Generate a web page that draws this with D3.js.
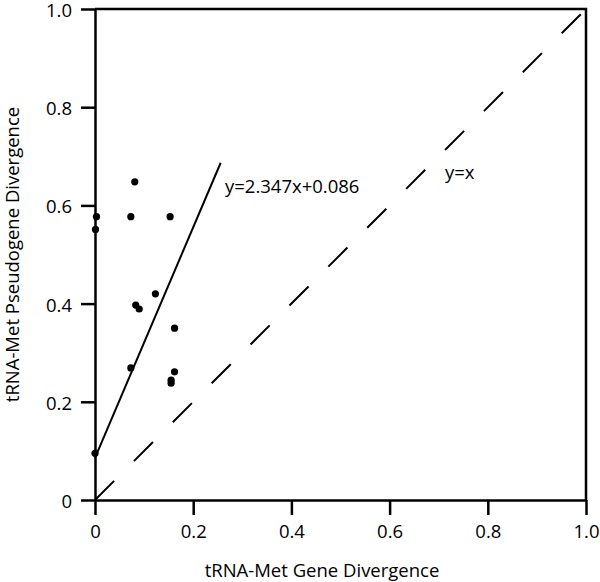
<!DOCTYPE html>
<html>
<head>
<meta charset="utf-8">
<script src="https://cdn.jsdelivr.net/npm/d3@7"></script>
<style>
  body { margin: 0; background: #fff; }
  text { font-family: "Open Sans", "Noto Sans", sans-serif; fill: #000; }
</style>
</head>
<body>
<script>
// gene divergence vs pseudogene divergence
const geneDiv = [0.081, 0.003, 0.001, 0.073, 0.153, 0.123, 0.083, 0.090, 0.162, 0.073, 0.162, 0.155, 0.155, 0.0]
const pseudoDiv = [0.648, 0.577, 0.551, 0.577, 0.577, 0.420, 0.397, 0.389, 0.350, 0.269, 0.261, 0.244, 0.238, 0.095]
const tickValues = [0, 0.2, 0.4, 0.6, 0.8, 1.0]
const fitSlope = 2.347
const fitIntercept = 0.086
const fitRange = [0, 0.256]

const width = 600
const height = 582
const plotLeft = 95, plotRight = 586, plotTop = 9, plotBottom = 500
const fontSize = "18.5px"

const svg = d3.select("body").append("svg")
  .attr("width", width).attr("height", height)

const x = d3.scaleLinear().domain([0, 1]).range([plotLeft, plotRight])
const y = d3.scaleLinear().domain([0, 1]).range([plotBottom, plotTop])

const fmt = d => d === 0 ? "0" : d3.format(".1f")(d)

//axes
const xAxis = svg.append("g")
  .attr("transform", `translate(0,${plotBottom})`)
  .call(d3.axisBottom(x).tickValues(tickValues).tickFormat(fmt).tickSize(15).tickSizeOuter(0).tickPadding(10))
const yAxis = svg.append("g")
  .attr("transform", `translate(${plotLeft},0)`)
  .call(d3.axisLeft(y).tickValues(tickValues).tickFormat(fmt).tickSize(14).tickSizeOuter(0).tickPadding(9))

;[xAxis, yAxis].forEach(g => {
  g.select(".domain").attr("stroke", "#000").attr("stroke-width", 2.5)
  g.selectAll(".tick line").attr("stroke", "#000").attr("stroke-width", 2.5)
  g.selectAll(".tick text").style("font-size", fontSize).attr("fill", "#000")
})
yAxis.selectAll(".tick text").attr("dy", "0.4em")

//top and right frame
svg.append("path")
  .attr("d", d3.line()([[x(0), y(1)], [x(1), y(1)], [x(1), y(0)]]))
  .attr("fill", "none").attr("stroke", "#000").attr("stroke-width", 2.5)

//y = x reference line
svg.append("line")
  .attr("x1", x(0)).attr("y1", y(0))
  .attr("x2", x(1)).attr("y2", y(1))
  .attr("stroke", "#000").attr("stroke-width", 2)
  .attr("stroke-dasharray", "27,28")

//regression line
svg.append("line")
  .attr("x1", x(fitRange[0])).attr("y1", y(fitSlope * fitRange[0] + fitIntercept))
  .attr("x2", x(fitRange[1])).attr("y2", y(fitSlope * fitRange[1] + fitIntercept))
  .attr("stroke", "#000").attr("stroke-width", 2)

//points
svg.selectAll(".pt")
  .data(geneDiv.map((g, i) => [g, pseudoDiv[i]]))
  .enter()
  .append("circle")
  .attr("class", "pt")
  .attr("cx", d => x(d[0]))
  .attr("cy", d => y(d[1]))
  .attr("r", 3.6)
  .attr("fill", "#000")

//annotations
svg.append("text")
  .attr("x", 225).attr("y", 193)
  .style("font-size", fontSize)
  .text("y=2.347x+0.086")
svg.append("text")
  .attr("x", 445).attr("y", 179)
  .style("font-size", fontSize)
  .text("y=x")

//axis titles
svg.append("text")
  .attr("x", 322).attr("y", 577)
  .attr("text-anchor", "middle")
  .style("font-size", fontSize)
  .text("tRNA-Met Gene Divergence")
svg.append("text")
  .attr("transform", `translate(19,${(plotTop + plotBottom) / 2}) rotate(-90)`)
  .attr("text-anchor", "middle")
  .style("font-size", fontSize)
  .text("tRNA-Met Pseudogene Divergence")
</script>
</body>
</html>
